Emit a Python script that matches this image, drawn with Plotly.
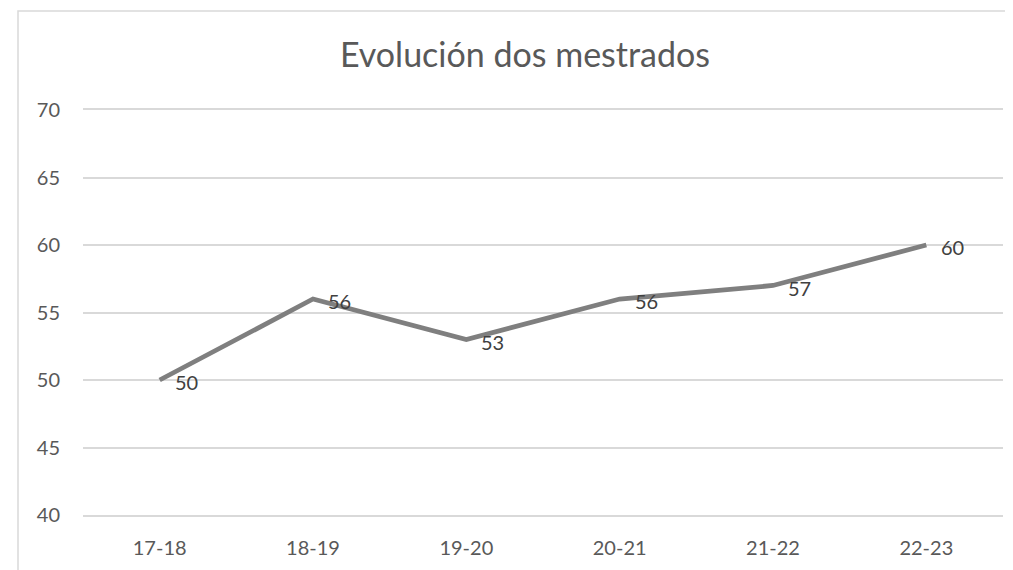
import plotly.graph_objects as go

categories = ["17-18", "18-19", "19-20", "20-21", "21-22", "22-23"]
values = [50, 56, 53, 56, 57, 60]
y_ticks = [40, 45, 50, 55, 60, 65, 70]
title_text = "Evolución dos mestrados"

# page body has an 8px margin; figure is sized/offset to compensate
W, H = 1005, 562
L, R, T, B = 75, 10, 102, 55
pw, ph = W - L - R, H - T - B

fig = go.Figure()
fig.add_trace(go.Scatter(
    x=categories, y=values, mode="lines",
    line=dict(color="#7f7f7f", width=4.8),
    hoverinfo="skip", showlegend=False,
))
for c, v in zip(categories, values):
    fig.add_annotation(x=c, y=v, text=str(v), showarrow=False,
                       xanchor="left", yanchor="middle", xshift=13, yshift=-2,
                       font=dict(family="Lato", size=20, color="#404040"))

def px_x(p):
    return (p - L) / pw
def px_y(p):
    return 1 - (p - T) / ph

# chart-area frame (extends past right and bottom edges)
fig.add_shape(type="rect", xref="paper", yref="paper",
              x0=px_x(10), x1=px_x(1040), y0=px_y(3), y1=px_y(600),
              line=dict(color="#d9d9d9", width=1.5), fillcolor="rgba(0,0,0,0)", layer="below")

fig.update_layout(
    width=W, height=H,
    margin=dict(l=L, r=R, t=T, b=B),
    paper_bgcolor="white", plot_bgcolor="white",
    title=dict(text=title_text, x=517 / W, xanchor="center", y=1 - 47 / H, yanchor="middle",
               font=dict(family="Lato", size=34, color="#595959")),
    xaxis=dict(type="category", showgrid=False, showline=True, mirror=True,
               linecolor="#d9d9d9", linewidth=1.5,
               ticks="", tickfont=dict(family="Lato", size=20, color="#595959"),
               ticklabelstandoff=14, range=[-0.5, 5.5], fixedrange=True),
    yaxis=dict(range=[40, 70], tickvals=y_ticks, showgrid=True, gridcolor="#d9d9d9", gridwidth=1.5,
               zeroline=False, showline=False, ticks="",
               tickfont=dict(family="Lato", size=20, color="#595959"),
               ticklabelstandoff=22, fixedrange=True),
)

fig.write_html("out.html")
